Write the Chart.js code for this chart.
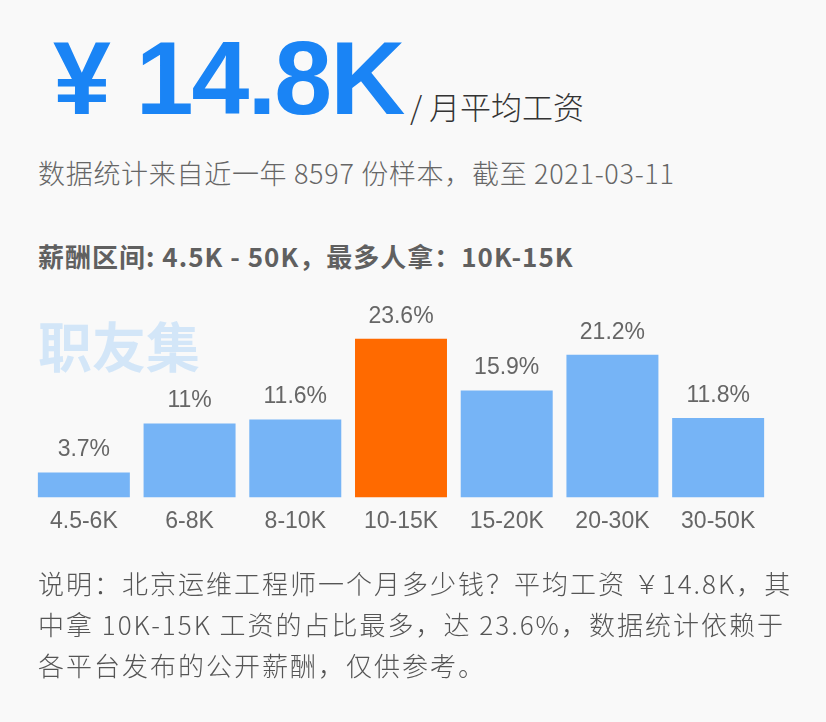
<!DOCTYPE html>
<html>
<head>
<meta charset="utf-8">
<script src="https://cdn.jsdelivr.net/npm/chart.js@4.4.1/dist/chart.umd.min.js"></script>
<style>
  body { margin: 0; background: #f9f9f9; }
  #page { position: relative; width: 826px; height: 722px; overflow: hidden;
          font-family: "Liberation Sans", "Noto Sans CJK SC", sans-serif; color: #666; }
  .abs { position: absolute; white-space: nowrap; }
  #big { left: 53px; top: 19px; font-size: 104px; font-weight: bold; color: #1a84f5; letter-spacing: -2px; }
  #unit { left: 410px; top: 83px; font-size: 31px; color: #333; font-family: "Noto Sans CJK SC", sans-serif; font-weight: 300; }
  #sub { left: 38px; top: 153px; font-size: 27px; letter-spacing: 0.7px; color: #666; font-family: "Noto Sans CJK SC", sans-serif; font-weight: 300; }
  #range { left: 38px; top: 237px; font-size: 26px; letter-spacing: 1px; color: #606060; font-weight: bold; font-family: "Noto Sans CJK SC", sans-serif; }
  #mark { left: 38px; top: 305px; font-size: 54px; color: #d3e6f8; font-weight: bold; font-family: "Noto Sans CJK SC", sans-serif; }
  #note { left: 38px; top: 562px; font-size: 26px; letter-spacing: 2px; line-height: 41px; color: #555; font-family: "Noto Sans CJK SC", sans-serif; font-weight: 300; }
  #wrap { position: absolute; left: 0; top: 293px; width: 826px; height: 270px; }
</style>
</head>
<body>
<div id="page">
  <div class="abs" id="big">¥ 14.8K</div>
  <div class="abs" id="unit">/ 月平均工资</div>
  <div class="abs" id="sub">数据统计来自近一年 8597 份样本，截至 2021-03-11</div>
  <div class="abs" id="range">薪酬区间: 4.5K - 50K，最多人拿：10K-15K</div>
  <div class="abs" id="mark">职友集</div>
  <div id="wrap"><canvas id="miGrafico" width="826" height="270"></canvas></div>
  <div class="abs" id="note">说明：北京运维工程师一个月多少钱？平均工资 ￥14.8K，其<br>中拿 10K-15K 工资的占比最多，达 23.6%，数据统计依赖于<br>各平台发布的公开薪酬，仅供参考。</div>
</div>

<script>
// Datos del gráfico
const categorias = ['4.5-6K', '6-8K', '8-10K', '10-15K', '15-20K', '20-30K', '30-50K'];
const porcentajes = [3.7, 11, 11.6, 23.6, 15.9, 21.2, 11.8];
const maximo = 3; // indice de la barra destacada

const colores = porcentajes.map(function (v, i) {
    return i === maximo ? '#ff6a00' : '#76b4f6';
});

// Plugin para escribir el porcentaje encima de cada barra
const etiquetas = {
    id: 'etiquetas',
    afterDatasetsDraw: function (chart) {
        const ctx = chart.ctx;
        const meta = chart.getDatasetMeta(0);
        ctx.save();
        ctx.font = '23px "Liberation Sans", sans-serif';
        ctx.fillStyle = '#666';
        ctx.textAlign = 'center';
        ctx.textBaseline = 'bottom';
        meta.data.forEach(function (bar, i) {
            ctx.fillText(porcentajes[i] + '%', bar.x, bar.y - 11);
        });
        ctx.restore();
    }
};

const ctx = document.getElementById('miGrafico').getContext('2d');
new Chart(ctx, {
    type: 'bar',
    data: {
        labels: categorias,
        datasets: [{
            data: porcentajes,
            backgroundColor: colores,
            borderWidth: 0,
            barPercentage: 0.87,
            categoryPercentage: 1
        }]
    },
    options: {
        responsive: false,
        animation: false,
        layout: { padding: { left: 31, right: 55, top: 0, bottom: 18 } },
        plugins: { legend: { display: false }, tooltip: { enabled: false } },
        scales: {
            x: {
                grid: { display: false, drawTicks: false },
                border: { display: false },
                ticks: {
                    color: '#666',
                    padding: 10,
                    font: { family: '"Liberation Sans", sans-serif', size: 23 }
                }
            },
            y: {
                display: false,
                min: 0,
                max: 30.4
            }
        }
    },
    plugins: [etiquetas]
});
</script>
</body>
</html>
